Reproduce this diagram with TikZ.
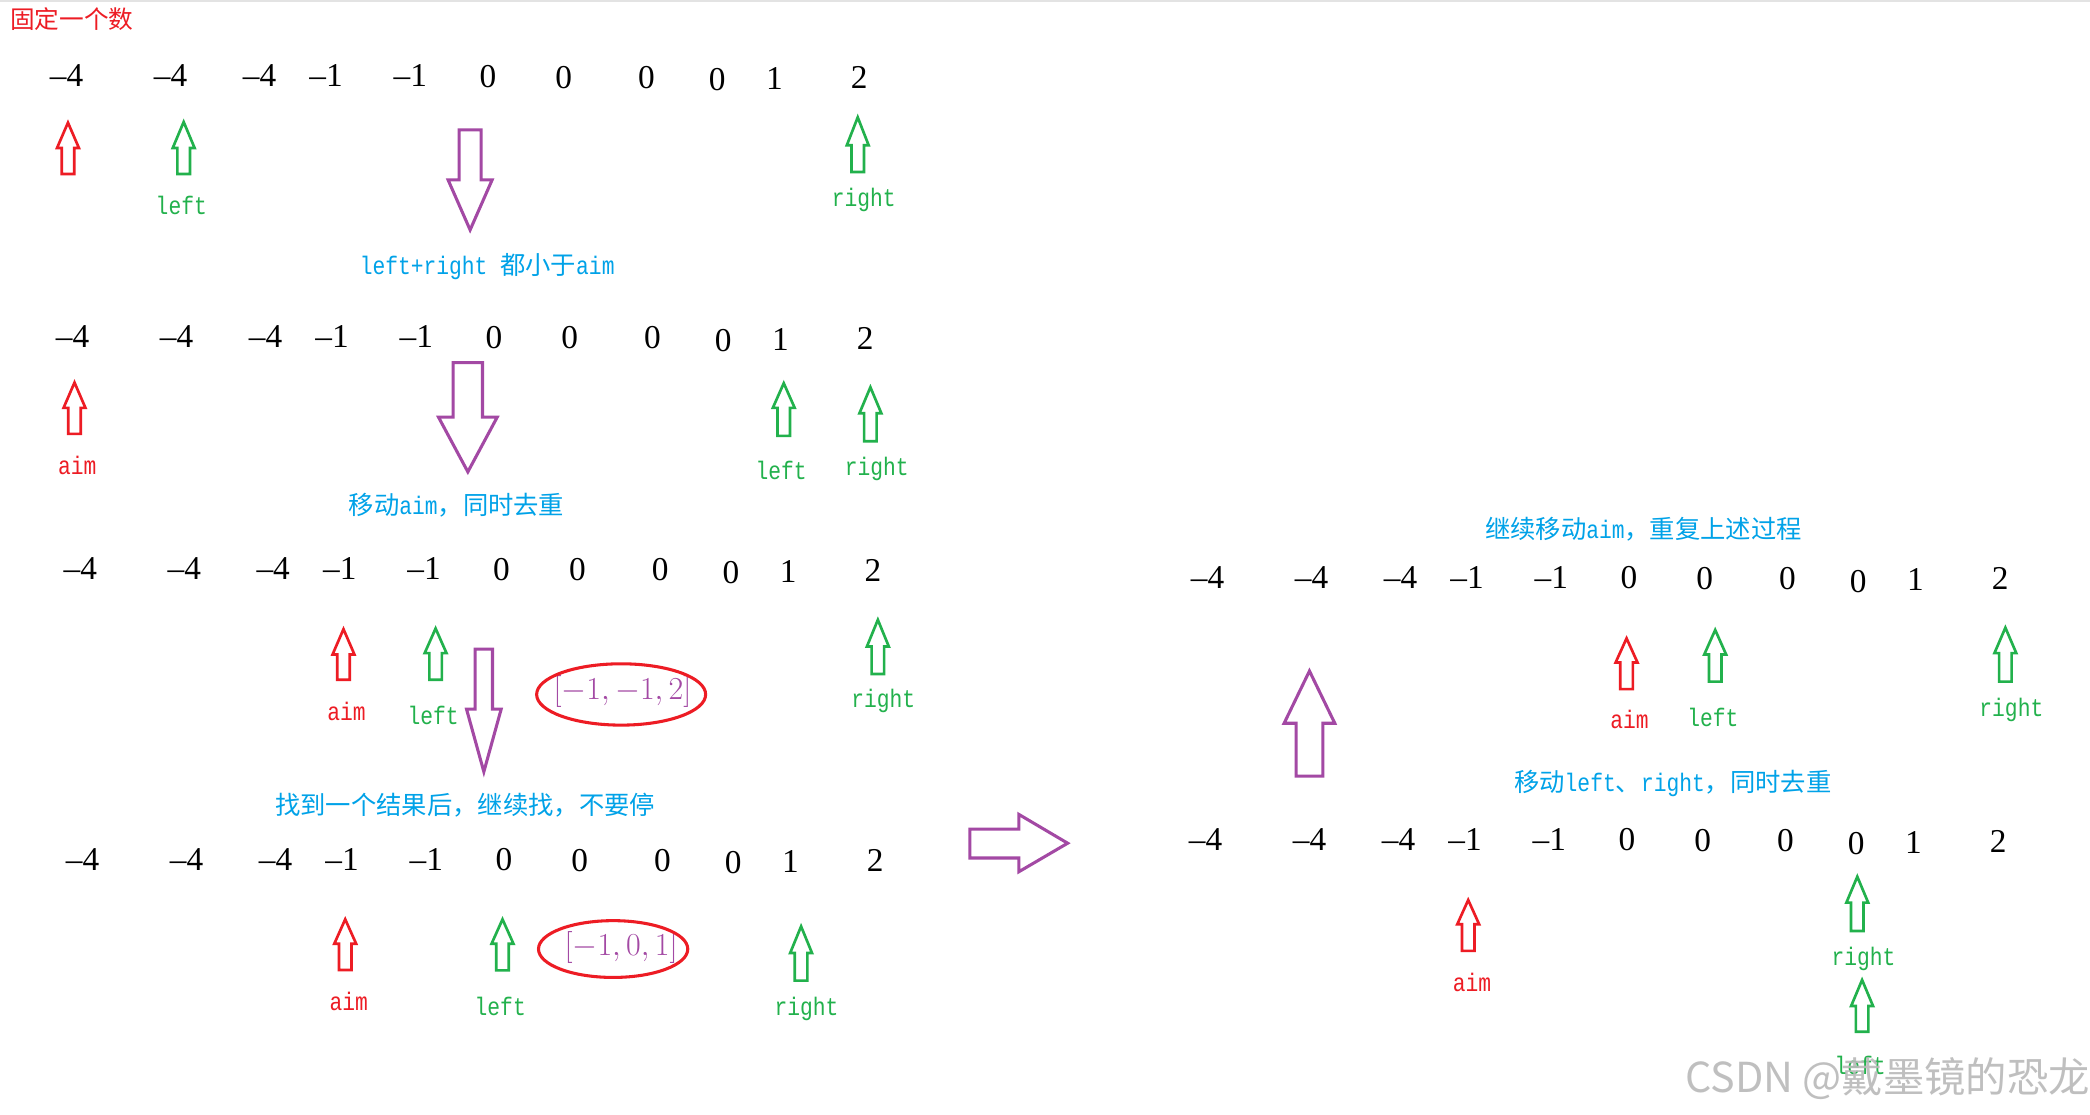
\documentclass[tikz,border=0pt]{standalone}
\usepackage{fix-cm}
\usepackage{fontspec}
\setmainfont{Liberation Serif}
\newfontfamily\cjk{Noto Sans CJK SC}
\newfontfamily\lab[FakeStretch=0.84]{Liberation Mono}
\definecolor{pred}{RGB}{237,28,36}
\definecolor{pgreen}{RGB}{34,177,76}
\definecolor{pblue}{RGB}{0,162,232}
\definecolor{ppurple}{RGB}{163,73,164}
\tikzset{
  num/.style={font=\fontsize{25}{28}\selectfont, inner sep=0pt},
  lbl/.style={font=\lab\fontsize{19}{22}\selectfont, inner sep=0pt},
  note/.style={font=\cjk\fontsize{19}{22}\selectfont, text=pblue, inner sep=0pt},
  redarr/.style={draw=pred, line width=2pt, line join=miter},
  grnarr/.style={draw=pgreen, line width=2pt, line join=miter},
  purarr/.style={draw=ppurple, line width=2.3pt, line join=miter},
  ellred/.style={draw=pred, line width=2.3pt},
  res/.style={font=\fontsize{24}{26}\selectfont, text=ppurple, inner sep=0pt},
}
\newcommand\arrup[7]{\draw[#1] (#2,#3) -- ({#2+#6},#4) -- ({#2+#7},#4) -- ({#2+#7},#5) -- ({#2-#7},#5) -- ({#2-#7},#4) -- ({#2-#6},#4) -- cycle;}
\newcommand\numrow[3]{\foreach \v/\x/\dy [count=\i] in {{–4}/50/0,{–4}/128/0,{–4}/194.7/0,{–1}/244.6/0,{–1}/307.8/0,0/366/0.5,0/423/1,0/485/1,0/538/3,1/581/2,2/644.6/1.3}{\node[num] (#1-\i) at ({\x+#2},{#3+\dy}) {\v};}}
\begin{document}
\begin{tikzpicture}[x=1pt,y=-1pt]
\fill[white] (0,0) rectangle (1568,836);
\useasboundingbox (0,0) rectangle (1568,836);
\fill[gray!22] (0,0) rectangle (1568,1.5);

\node[font=\cjk\fontsize{18.5}{20}\selectfont, text=pred, inner sep=0pt] (title) at (54,14) {固定一个数};

% number rows
\numrow{ra}{0}{57}
\numrow{rb}{4.5}{252.5}
\numrow{rc}{10.3}{426.5}
\numrow{rd}{12}{644.5}
\numrow{re}{856}{433}
\numrow{rf}{854.5}{629.7}

% row 1
\arrup{redarr}{51}{92}{111}{130.5}{8.2}{4.7}
\arrup{grnarr}{137.8}{91.5}{111}{130.5}{8.2}{4.7}
\arrup{grnarr}{643.5}{88}{109}{129}{8.2}{4.7}
\node[lbl,text=pgreen] (aleft) at (136,154) {left};
\node[lbl,text=pgreen] (aright) at (648,150) {right};
\arrup{purarr}{352.7}{172.5}{135}{97.5}{16.5}{8.2}
\node[note] (n1) at (365.5,200) {{\lab left+right }都小于{\lab aim}};

% row 2
\arrup{redarr}{55.9}{287}{306}{325.5}{8.2}{4.7}
\arrup{grnarr}{588}{287.5}{306}{327}{8.2}{4.7}
\arrup{grnarr}{653}{290.5}{310}{331}{8.2}{4.7}
\node[lbl,text=pred] (baim) at (58,349) {aim};
\node[lbl,text=pgreen] (bleft) at (586,353) {left};
\node[lbl,text=pgreen] (bright) at (657.7,352) {right};
\arrup{purarr}{351}{354}{313}{272}{22}{11}
\node[note] (n2) at (342.5,379) {移动{\lab aim}，同时去重};

% row 3
\arrup{redarr}{257.7}{472}{491}{510}{8.2}{4.7}
\arrup{grnarr}{326.8}{471.5}{490}{510}{8.2}{4.7}
\arrup{grnarr}{658.6}{465}{485}{505.6}{8.2}{4.7}
\node[lbl,text=pred] (caim) at (260,534) {aim};
\node[lbl,text=pgreen] (cleft) at (325,537) {left};
\node[lbl,text=pgreen] (cright) at (662.7,526) {right};
\arrup{purarr}{363}{579}{532}{487}{13}{6.5}
\node[res] (res1) at (467,519) {$[-1,-1,2]$};
\draw[ellred] (466,521) ellipse [x radius=63.4, y radius=23];
\node[note] (n3) at (349,604) {找到一个结果后，继续找，不要停};

% row 4
\arrup{redarr}{259}{689.7}{708}{727.7}{8.2}{4.7}
\arrup{grnarr}{377}{689.7}{708}{728}{8.2}{4.7}
\arrup{grnarr}{601}{695}{715}{735.7}{8.2}{4.7}
\node[lbl,text=pred] (daim) at (261.6,751) {aim};
\node[lbl,text=pgreen] (dleft) at (375.3,755) {left};
\node[lbl,text=pgreen] (dright) at (605,757) {right};
\node[res] (res2) at (466,711) {$[-1,0,1]$};
\draw[ellred] (460,712) ellipse [x radius=56, y radius=21.3];

% big right arrow
\draw[purarr] (801,632.6) -- (764.4,611) -- (764.4,622) -- (727.6,622) -- (727.6,643.7) -- (764.4,643.7) -- (764.4,654) -- cycle;

% right side
\node[note] (n4) at (1233,397) {继续移动{\lab aim}，重复上述过程};
\arrup{redarr}{1220.3}{478.9}{497}{517}{8.2}{4.7}
\arrup{grnarr}{1286.8}{472.6}{491}{511.4}{8.2}{4.7}
\arrup{grnarr}{1504.5}{470.9}{490}{511.4}{8.2}{4.7}
\node[lbl,text=pred] (eaim) at (1222.5,540) {aim};
\node[lbl,text=pgreen] (eleft) at (1285,538) {left};
\node[lbl,text=pgreen] (eright) at (1509,532.6) {right};
\arrup{purarr}{982.4}{503.4}{542.6}{582.2}{19}{10}
\node[note] (n5) at (1255,587.5) {移动{\lab left}、{\lab right}，同时去重};

\arrup{redarr}{1101.5}{675.2}{693.4}{713.4}{8.2}{4.7}
\arrup{grnarr}{1393.4}{657.7}{677.2}{698.4}{8.2}{4.7}
\arrup{grnarr}{1397}{735.2}{754.7}{774}{8.2}{4.7}
\node[lbl,text=pred] (faim) at (1104.3,737) {aim};
\node[lbl,text=pgreen] (fright) at (1398,719.7) {right};
\node[lbl,text=pgreen] (fleft) at (1395.6,799) {left};

\node[font=\cjk\fontsize{31}{34}\selectfont, text=gray!55, opacity=0.9, inner sep=0pt] (wm) at (1416,809) {CSDN @戴墨镜的恐龙};
\end{tikzpicture}
\end{document}
